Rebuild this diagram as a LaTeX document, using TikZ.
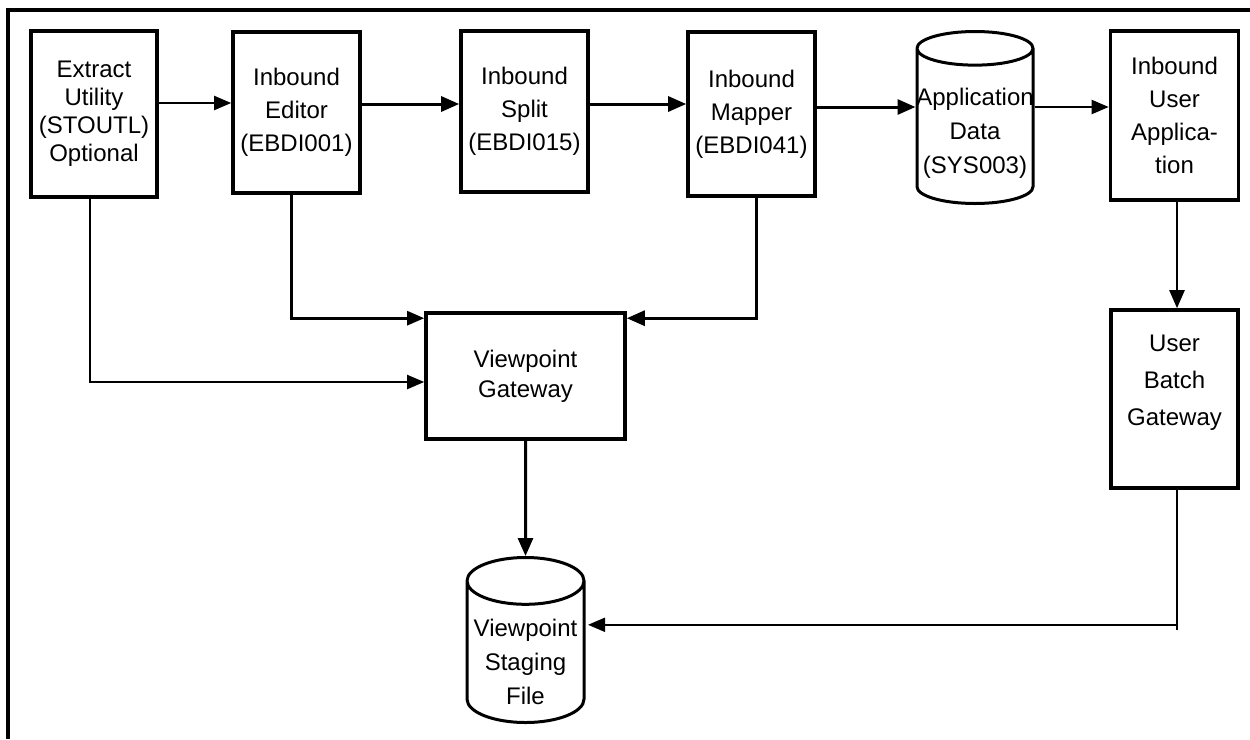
\documentclass[tikz,border=0pt]{standalone}
\usepackage{fontspec}
\setmainfont{Liberation Sans}
\usepackage{tikz}
\usetikzlibrary{shapes.geometric, positioning, arrows.meta}
% label of a store: as wide as the drum, lowered below its middle
\newcommand{\storelabel}[3]{\makebox[#1]{\raisebox{#2}[0pt][0pt]{%
    \begin{tabular}[c]{@{}c@{}}#3\end{tabular}}}}
\tikzset{
    procbox/.style={rectangle, draw, line width=3.6pt, align=center, inner sep=2pt,
        font=\fontsize{24}{33}\selectfont},
    storecyl/.style={cylinder, shape border rotate=90, draw, line width=3pt,
        inner sep=0pt, anchor=shape center, font=\fontsize{24}{34}\selectfont},
    thinflow/.style={draw, line width=2pt, -{Triangle[length=17pt,width=14pt]}},
    thickflow/.style={draw, line width=3pt, -{Triangle[length=18pt,width=15pt]}},
    plainline/.style={draw, line width=2pt}
}

\begin{document}
\begin{tikzpicture}[x=1pt, y=-1pt]
    \useasboundingbox (0,0) rectangle (1250,739);
    % frame
    \draw[line width=3.5pt] (8,739) -- (8,10) -- (1250,10);
    % top row
    \node[procbox, minimum width=126pt, minimum height=166pt, font=\fontsize{24}{28}\selectfont]
        (extract) at (94,114) {Extract\\Utility\\(STOUTL)\\Optional};
    \node[procbox, minimum width=127pt, minimum height=161pt]
        (editor) at (296.5,112.5) {Inbound\\Editor\\(EBDI001)};
    \node[procbox, minimum width=127pt, minimum height=161pt]
        (split) at (524.5,111.5) {Inbound\\Split\\(EBDI015)};
    \node[procbox, minimum width=127pt, minimum height=164pt]
        (mapper) at (751.5,114) {Inbound\\Mapper\\(EBDI041)};
    \node[storecyl, aspect=0.29, minimum height=172pt]
        (appdata) at (975,117.5) {\storelabel{116pt}{-12.5pt}{Application\\Data\\(SYS003)}};
    \node[procbox, minimum width=128pt, minimum height=169pt]
        (userapp) at (1174.5,115.5) {Inbound\\User\\Applica-\\tion};
    % lower part
    \node[procbox, minimum width=199pt, minimum height=126pt, font=\fontsize{24}{30}\selectfont]
        (gateway) at (525.5,376) {Viewpoint\\Gateway};
    \node[procbox, minimum width=127pt, minimum height=178pt, font=\fontsize{24}{37}\selectfont]
        (batch) at (1174.5,399) {User\\Batch\\Gateway\\\mbox{}};
    \node[storecyl, aspect=0.4, minimum height=165pt]
        (staging) at (525.5,640) {\storelabel{117pt}{-17.5pt}{Viewpoint\\Staging\\File}};

    % connectors along the top
    \draw[thinflow] ([yshift=11pt]extract.east) -- ([yshift=9.5pt]editor.west);
    \draw[thickflow] ([yshift=8.5pt]editor.east) -- ([yshift=7.5pt]split.west);
    \draw[thickflow] ([yshift=7.5pt]split.east) -- ([yshift=10pt]mapper.west);
    \draw[thickflow] ([yshift=7pt]mapper.east) -- ([yshift=7pt]mapper.east -| appdata.west);
    \draw[thinflow] ([yshift=7pt]mapper.east -| appdata.east) -- ([yshift=8.5pt]userapp.west);

    % into the gateway
    \draw[thinflow] ([xshift=-4pt]extract.south) |- ([yshift=-6pt]gateway.west);
    \draw[thinflow, line width=2.6pt] ([xshift=-5pt]editor.south) |- ([yshift=-7pt]gateway.north west);
    \draw[thickflow] ([xshift=4.5pt]mapper.south) |- ([yshift=-7pt]gateway.north east);
    \draw[thickflow] (gateway.south) -- (staging.north);

    % user side
    \draw[thickflow, line width=2.4pt] ([xshift=2.5pt]userapp.south) -- ([xshift=2.5pt]batch.north);
    \draw[plainline] ([xshift=2.5pt]batch.south) -- ++(0,140);
    \draw[thinflow] ([xshift=2.5pt, yshift=-135pt]batch.south) -- ([xshift=2.5pt, yshift=-135pt]batch.south -| staging.east);
\end{tikzpicture}
\end{document}
